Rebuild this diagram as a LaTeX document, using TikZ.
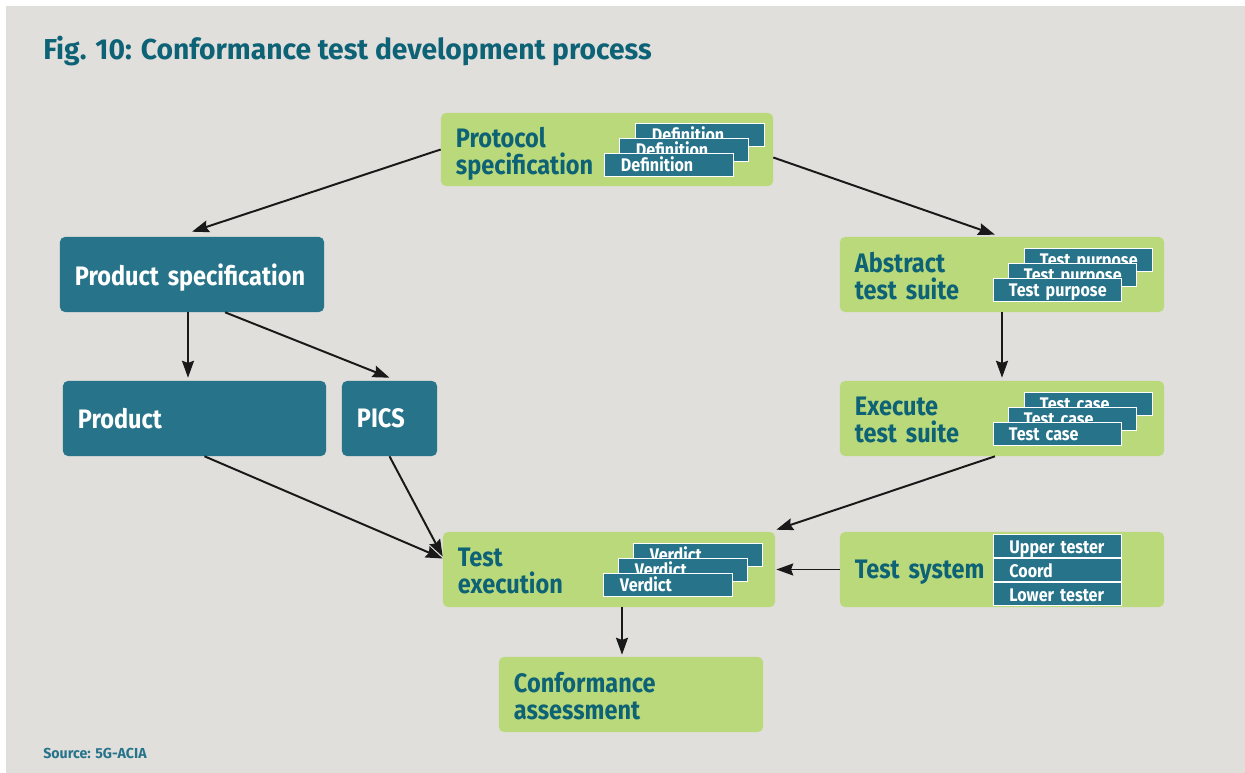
\documentclass[tikz,border=0pt]{standalone}
\usepackage{fontspec}
\setmainfont{Fira Sans}[FakeStretch=0.88]
\newfontfamily\headfont{Fira Sans}[FakeStretch=0.98]
\usepackage{tikz}
\usetikzlibrary{arrows.meta, calc, positioning}
\definecolor{bggray}{RGB}{224,223,220}
\definecolor{leafgreen}{RGB}{186,217,122}
\definecolor{petrol}{RGB}{39,116,138}
\definecolor{inkteal}{RGB}{14,98,118}
\tikzset{
>={Stealth[length=12pt,width=8.5pt,inset=1.5pt]}, % bold arrow heads
flow/.style={->,line width=1.4pt,black!90},
greenbox/.style={fill=leafgreen,rounded corners=3.5pt,text=inkteal,
  font=\fontsize{19}{19}\selectfont\bfseries,align=left,
  inner xsep=0.375cm,inner ysep=0pt,minimum height=1.875cm},
bluebox/.style={greenbox,fill=petrol,text=white},
oneline/.style={text depth=0pt},
twoline/.style={text depth=17pt},
tagbox/.style={fill=petrol,draw=white,line width=0.7pt,text=white,
  font=\fontsize{13}{13}\selectfont\bfseries,align=left,
  inner xsep=0.4cm,inner ysep=0pt,text width=2.4cm,
  minimum height=0.575cm,text height=10.6pt,text depth=0pt,
  execute at begin node={\hbox\bgroup},execute at end node={\egroup}},
}
\begin{document}
\begin{tikzpicture}[x=0.025cm,y=-0.025cm]%one unit is one pixel of the figure
  \useasboundingbox (0,0) rectangle (1245,773);
  \fill[white] (0,0) rectangle (1245,773);
  \fill[bggray] (6,6) rectangle (1245,773);

  \node[anchor=base west,inner sep=0pt,text=inkteal,font=\headfont\fontsize{20.5}{20.5}\selectfont\bfseries] (title) at (43,60)
    {Fig. 10: Conformance test development process};
  \node[anchor=base west,inner sep=0pt,text=petrol,font=\headfont\fontsize{10.3}{10.3}\selectfont\bfseries] (source) at (43,758)
    {Source: 5G-ACIA};

  % main boxes
  \node[greenbox, twoline, text width=7.55cm, minimum height=1.825cm] (proto) at (607,149.5) {Protocol\\specification};
  \node[bluebox, oneline, text width=5.85cm] (prodspec) at (192,274.5) {Product specification};
  \node[greenbox, twoline, text width=7.35cm] (abstract) at (1002,274.5) {Abstract\\test suite};
  \node[bluebox, oneline, text width=5.825cm] (product) at (194.5,418.5) {Product};
  \node[bluebox, oneline, text width=1.625cm] (pics) at (389.5,418.5) {PICS};
  \node[greenbox, twoline, text width=7.35cm] (execsuite) at (1002,418.5) {Execute\\test suite};
  \node[greenbox, twoline, text width=7.55cm] (testexec) at (609,569.5) {Test\\execution};
  \node[greenbox, oneline, text width=7.35cm] (testsys) at (1002,569.5) {Test system};
  \node[greenbox, twoline, text width=5.85cm] (conf) at (631,694.5) {Conformance\\assessment};

  % stacked tags
  \node[tagbox] (def3) at (700,134.5) {Definition};
  \node[tagbox] (def2) at (684,149.5) {Definition};
  \node[tagbox] (def1) at (669,164.5) {Definition};

  \node[tagbox] (purp3) at (1088,259.5) {Test purpose};
  \node[tagbox] (purp2) at (1072,274.5) {Test purpose};
  \node[tagbox] (purp1) at (1057,289.5) {Test purpose};

  \node[tagbox] (case3) at (1088,403.5) {Test case};
  \node[tagbox] (case2) at (1072,418.5) {Test case};
  \node[tagbox] (case1) at (1057,433.5) {Test case};

  \node[tagbox] (verd3) at (698,554.5) {Verdict};
  \node[tagbox] (verd2) at (683,569.5) {Verdict};
  \node[tagbox] (verd1) at (668,584.5) {Verdict};

  \node[tagbox] (upper) at (1057.5,546) {Upper tester};
  \node[tagbox] (coord) at (1057.5,570) {Coord};
  \node[tagbox] (lower) at (1057.5,594) {Lower tester};

  % flow
  \draw[flow] (proto.west) -- ($(prodspec.north)+(0,-5)$);
  \draw[flow] ($(proto.east)+(0,8)$) -- ($(abstract.north)+(-7,-2)$);
  \draw[flow] ($(prodspec.south)+(-4,0)$) -- ($(product.north)+(-6.5,-3)$);
  \draw[flow] ($(prodspec.south)+(33,0)$) -- ($(pics.north)+(0,-3)$);
  \draw[flow] ($(product.south)+(10,0)$) -- ($(testexec.west)+(0,-11)$);
  \draw[flow] (pics.south) -- ($(testexec.west)+(0,-13)$);
  \draw[flow] (abstract.south) -- ($(execsuite.north)+(0,-3)$);
  \draw[flow] ($(execsuite.south)+(-7,0)$) -- ($(testexec.north east)+(1,-2)$);
  \draw[flow] (testsys.west) -- ($(testexec.east)+(1,0)$);
  \draw[flow] ($(testexec.south)+(13,0)$) -- ($(conf.north)+(-9,-2)$);
\end{tikzpicture}
\end{document}
